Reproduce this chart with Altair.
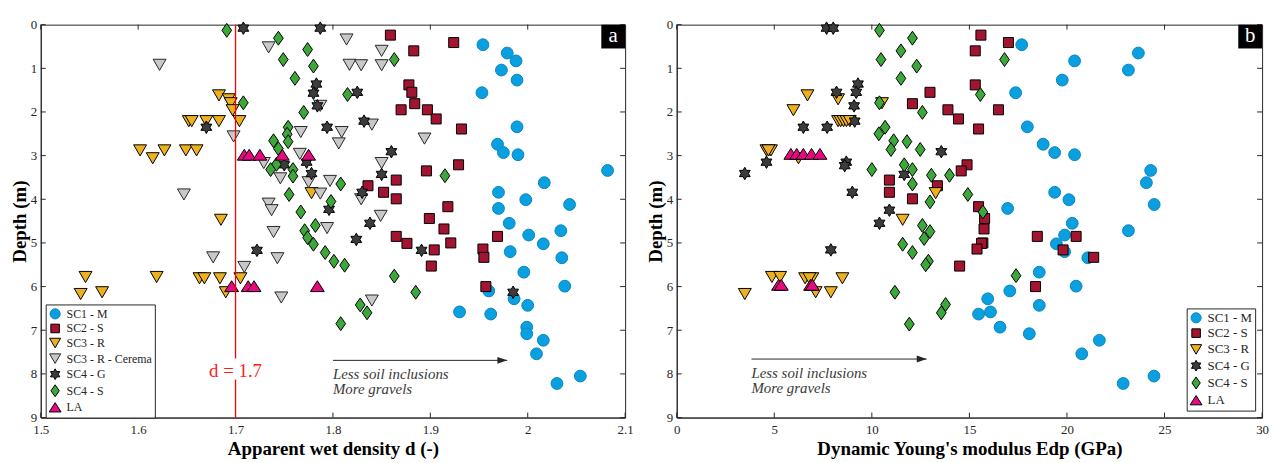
import altair as alt
import pandas as pd

FONT = "Liberation Serif"
INK = "#262626"

# ---------------- data ----------------
SERIES = ["SC1 - M", "SC2 - S", "SC3 - R", "SC3 - R - Cerema", "SC4 - G", "SC4 - S", "LA"]
FILLS = ["#0aa0e0", "#a2142f", "#edb120", "#c8c8c8", "#3c3c3c", "#3ca83a", "#e6097f"]
STROKES = ["#0b86c0", "#000000", "#000000", "#262626", "#000000", "#000000", "#000000"]

SC1_DEPTH = [0.46, 0.65, 0.83, 1.04, 1.27, 1.56, 2.34, 2.74, 2.93, 2.98, 3.34, 3.62, 3.84, 4.01, 4.12, 4.21, 4.55, 4.72,
             4.82, 5.02, 5.20, 5.34, 5.67, 5.99, 6.10, 6.28, 6.43, 6.58, 6.63, 6.93, 7.08, 7.23, 7.54, 8.05, 8.22]
SC1_DENSITY = [1.954, 1.979, 1.988, 1.973, 1.989, 1.953, 1.989, 1.969, 1.975, 1.990, 2.082, 2.017, 1.970, 1.998, 2.043,
               1.970, 1.981, 2.034, 2.001, 2.016, 1.982, 2.035, 1.996, 2.038, 1.960, 1.986, 2.000, 1.930, 1.962, 1.999,
               1.999, 2.016, 2.009, 2.054, 2.030]
SC1_EDP = [17.68, 23.66, 20.39, 23.15, 19.76, 17.37, 17.97, 18.78, 19.37, 20.39, 24.29, 24.07, 19.37, 20.10, 24.47,
           16.96, 20.27, 23.15, 19.88, 19.46, 19.88, 21.07, 18.58, 20.47, 17.07, 15.94, 18.58, 16.08, 15.47, 16.57,
           18.07, 21.66, 20.76, 24.46, 22.88]

SC2_DEPTH = [0.24, 0.41, 0.60, 1.38, 1.55, 1.81, 1.95, 1.95, 2.16, 2.39, 3.21, 3.35, 3.56, 3.69, 3.84, 3.99, 4.17, 4.44,
             4.68, 4.85, 4.85, 5.00, 5.01, 5.14, 5.16, 5.33, 5.53, 6.00]
SC2_DENSITY = [1.859, 1.924, 1.883, 1.878, 1.881, 1.884, 1.870, 1.897, 1.906, 1.932, 1.929, 1.896, 1.865, 1.836, 1.852,
               1.865, 1.918, 1.899, 1.914, 1.865, 1.969, 1.921, 1.876, 1.954, 1.904, 1.955, 1.901, 1.957]
SC2_EDP = [15.59, 17.00, 15.30, 15.30, 12.98, 12.08, 13.90, 16.49, 14.44, 15.47, 14.88, 14.58, 10.90, 13.36, 10.90,
           12.08, 15.47, 15.78, 15.75, 18.48, 20.47, 15.69, 15.62, 15.39, 19.80, 21.37, 14.50, 18.39]

SC3R_DEPTH = [1.62, 1.71, 1.80, 1.96, 2.21, 2.21, 2.21, 2.21, 2.21, 2.88, 3.06, 2.88, 2.88, 2.88, 3.86, 4.47, 5.78, 6.17,
              6.13, 5.78, 5.81, 5.81, 5.81, 5.81, 6.13]
SC3R_DENSITY = [1.683, 1.693, 1.695, 1.697, 1.652, 1.655, 1.670, 1.683, 1.704, 1.602, 1.615, 1.627, 1.649, 1.660, 1.778,
                1.685, 1.546, 1.541, 1.563, 1.619, 1.663, 1.668, 1.684, 1.705, 1.690]
SC3R_EDP = [6.70, 8.27, 10.52, 5.98, 8.27, 8.40, 8.55, 8.70, 8.87, 4.60, 6.24, 4.72, 4.83, 4.70, 13.27, 11.58, 4.88, 3.49,
            7.12, 5.30, 6.58, 6.95, 8.49, 6.80, 7.90]

CEREMA_DEPTH = [0.34, 0.52, 0.60, 0.92, 0.92, 0.93, 0.93, 1.86, 2.29, 2.46, 2.46, 2.56, 2.61, 2.72, 2.96, 3.17, 3.17,
                3.52, 3.58, 3.61, 3.87, 3.89, 4.00, 4.10, 4.25, 4.38, 4.66, 4.75, 5.33, 5.35, 5.55, 6.25, 6.32]
CEREMA_DENSITY = [1.814, 1.734, 1.850, 1.622, 1.817, 1.829, 1.850, 1.787, 1.840, 1.767, 1.809, 1.698, 1.894, 1.806,
                  1.766, 1.729, 1.850, 1.746, 1.797, 1.775, 1.787, 1.647, 1.829, 1.734, 1.737, 1.849, 1.794, 1.739,
                  1.677, 1.743, 1.709, 1.747, 1.840]

SC4G_D_DEPTH = [0.08, 0.08, 1.36, 1.55, 1.57, 1.86, 2.21, 2.35, 2.35, 2.91, 3.15, 3.21, 3.41, 3.43, 3.84, 4.23, 4.55,
                4.92, 5.17, 5.17, 6.13]
SC4G_DENSITY = [1.708, 1.787, 1.783, 1.825, 1.780, 1.784, 1.832, 1.670, 1.794, 1.860, 1.773, 1.750, 1.778, 1.850, 1.830,
                1.796, 1.838, 1.824, 1.891, 1.722, 1.985]
SC4G_E_DEPTH = [0.08, 0.08, 1.36, 1.55, 1.55, 1.86, 2.21, 2.35, 2.35, 2.91, 3.15, 3.15, 3.23, 3.41, 3.43, 3.84, 4.25,
                4.55, 5.16]
SC4G_EDP = [7.68, 8.02, 9.29, 8.19, 9.20, 9.09, 9.12, 6.49, 7.71, 13.56, 4.60, 8.69, 8.61, 3.49, 11.66, 9.00, 10.90,
            10.39, 7.90]

SC4S_D_DEPTH = [0.13, 0.31, 0.57, 0.80, 0.80, 0.95, 1.23, 1.60, 1.79, 2.01, 2.35, 2.51, 2.66, 2.68, 2.84, 3.20, 3.32,
                3.32, 3.46, 3.47, 3.65, 3.89, 4.05, 4.29, 4.60, 4.72, 4.88, 5.03, 5.22, 5.42, 5.51, 5.76, 6.13, 6.42,
                6.60, 6.85]
SC4S_DENSITY = [1.691, 1.744, 1.774, 1.749, 1.863, 1.780, 1.761, 1.815, 1.708, 1.770, 1.754, 1.753, 1.739, 1.754, 1.744,
                1.742, 1.736, 1.759, 1.915, 1.759, 1.808, 1.755, 1.798, 1.767, 1.782, 1.771, 1.774, 1.780, 1.792, 1.801,
                1.812, 1.863, 1.885, 1.828, 1.835, 1.808]
SC4S_E_DEPTH = [0.13, 0.31, 0.60, 0.80, 0.80, 0.95, 1.23, 1.60, 1.79, 2.01, 2.35, 2.50, 2.66, 2.68, 2.86, 2.86, 3.21,
                3.32, 3.32, 3.45, 3.45, 3.65, 3.89, 4.06, 4.29, 4.60, 4.74, 4.90, 5.03, 5.22, 5.42, 5.50, 5.75, 6.13,
                6.41, 6.60, 6.86]
SC4S_EDP = [10.39, 12.08, 11.49, 10.47, 16.80, 12.30, 11.49, 15.56, 10.39, 12.59, 10.68, 10.36, 11.12, 11.80, 10.98,
            12.48, 11.66, 10.00, 12.08, 13.05, 13.98, 12.08, 14.92, 12.98, 15.69, 12.59, 12.98, 12.68, 11.58, 12.08,
            12.90, 12.76, 17.39, 11.18, 13.78, 13.56, 11.92]

LA_D_DEPTH = [2.98, 2.98, 2.98, 2.98, 2.98, 5.99, 5.99, 5.99, 5.99]
LA_DENSITY = [1.709, 1.714, 1.725, 1.748, 1.775, 1.696, 1.713, 1.719, 1.784]
LA_E_DEPTH = [2.96, 2.96, 2.96, 2.96, 2.96, 5.96, 5.96, 5.96, 5.96]
LA_EDP = [5.85, 6.15, 6.49, 6.91, 7.34, 5.22, 5.36, 6.86, 6.95]

X_TICKS_D = [1.5, 1.6, 1.7, 1.8, 1.9, 2.0, 2.1]
X_TICKS_E = [0, 5, 10, 15, 20, 25, 30]
Y_TICKS = [0, 1, 2, 3, 4, 5, 6, 7, 8, 9]

THRESHOLD_X = [1.7, 1.7]
THRESHOLD_Y1 = [0.0, 8.13]
THRESHOLD_Y2 = [7.65, 9.0]
THRESHOLD_LABEL = "d = 1.7"
THRESHOLD_LABEL_Y = 7.93

NOTE_LINES = ["Less soil inclusions", "More gravels"]
ARROW_D = {"x": 1.80, "x2": 1.979, "y": 7.69, "ty": [8.00, 8.35]}
ARROW_E = {"x": 3.83, "x2": 12.81, "y": 7.66, "ty": [7.97, 8.32]}

# ---------------- styles ----------------
CIRCLE = "M0.85,0A0.85,0.85,0,1,1,-0.85,0A0.85,0.85,0,1,1,0.85,0Z"
SQUARE = "M-0.72,-0.72L0.72,-0.72L0.72,0.72L-0.72,0.72Z"
TRI_DOWN = "M-0.93,-0.8L0.93,-0.8L0,0.8Z"
TRI_UP = "M0,-0.78L1,0.78L-1,0.78Z"
DIAMOND = "M0,-1L0.7,0L0,1L-0.7,0Z"
HEXAGRAM = ("M0,-0.9L0.26,-0.45L0.78,-0.45L0.52,0L0.78,0.45L0.26,0.45L0,0.9L-0.26,0.45"
            "L-0.78,0.45L-0.52,0L-0.78,-0.45L-0.26,-0.45Z")
SHAPES = [CIRCLE, SQUARE, TRI_DOWN, TRI_DOWN, HEXAGRAM, DIAMOND, TRI_UP]
ARROW_HEAD = "M0,0L-1,-0.35L-1,0.35Z"

H = 396
W_D = 589
W_E = 590


def build_df(blocks):
    rows = []
    for name, depths, vals in blocks:
        for d, v in zip(depths, vals):
            rows.append({"series": name, "depth": d, "value": v})
    return pd.DataFrame(rows)


df_d = build_df([
    (SERIES[0], SC1_DEPTH, SC1_DENSITY),
    (SERIES[1], SC2_DEPTH, SC2_DENSITY),
    (SERIES[2], SC3R_DEPTH, SC3R_DENSITY),
    (SERIES[3], CEREMA_DEPTH, CEREMA_DENSITY),
    (SERIES[4], SC4G_D_DEPTH, SC4G_DENSITY),
    (SERIES[5], SC4S_D_DEPTH, SC4S_DENSITY),
    (SERIES[6], LA_D_DEPTH, LA_DENSITY),
])
df_e = build_df([
    (SERIES[0], SC1_DEPTH, SC1_EDP),
    (SERIES[1], SC2_DEPTH, SC2_EDP),
    (SERIES[2], SC3R_DEPTH, SC3R_EDP),
    (SERIES[4], SC4G_E_DEPTH, SC4G_EDP),
    (SERIES[5], SC4S_E_DEPTH, SC4S_EDP),
    (SERIES[6], LA_E_DEPTH, LA_EDP),
])


def make_panel(df, idx, xdomain, xticks, xtitle, W, legend_xy, label_size, row_pad, arrow, letter, extra=None):
    ser = [SERIES[i] for i in idx]
    fills = [FILLS[i] for i in idx]
    strokes = [STROKES[i] for i in idx]
    shapes = [SHAPES[i] for i in idx]
    xs = alt.Scale(domain=xdomain, nice=False, zero=False)
    ys = alt.Scale(domain=[0, 9], reverse=True, nice=False, zero=False)
    x_axis = alt.Axis(values=xticks, format="~g", labelFlush=False, labelPadding=6, titlePadding=3)
    y_axis = alt.Axis(values=Y_TICKS, format="~g", labelFlush=False, labelPadding=4, titlePadding=1)

    def X(field):
        return alt.X(field, type="quantitative", scale=xs, title=xtitle, axis=x_axis)

    def Y(field):
        return alt.Y(field, type="quantitative", scale=ys, title="Depth (m)", axis=y_axis)

    leg = alt.Legend(title=None, orient="none", legendX=legend_xy[0], legendY=legend_xy[1],
                     fillColor="white", strokeColor=INK, padding=3, rowPadding=row_pad,
                     symbolSize=144, symbolStrokeWidth=1, symbolOpacity=1,
                     labelFont=FONT, labelFontSize=label_size, labelColor=INK, labelOffset=5)
    points = alt.Chart(df).mark_point(filled=True, size=196, strokeWidth=1, opacity=1,
                                      fillOpacity=1, strokeOpacity=1).encode(
        x=X("value"),
        y=Y("depth"),
        fill=alt.Fill("series:N", scale=alt.Scale(domain=ser, range=fills), legend=leg),
        stroke=alt.Stroke("series:N", scale=alt.Scale(domain=ser, range=strokes), legend=leg),
        shape=alt.Shape("series:N", scale=alt.Scale(domain=ser, range=shapes), legend=leg),
    )
    # inner ticks on all four sides (MATLAB box style)
    L = 5
    tx = alt.Chart(pd.DataFrame({"t": xticks})).mark_rule(color=INK, strokeWidth=1)
    ty = alt.Chart(pd.DataFrame({"t": Y_TICKS})).mark_rule(color=INK, strokeWidth=1)
    ticks = [
        tx.encode(x=X("t"), y=alt.value(H), y2=alt.value(H - L)),
        tx.encode(x=X("t"), y=alt.value(0), y2=alt.value(L)),
        ty.encode(y=Y("t"), x=alt.value(0), x2=alt.value(L)),
        ty.encode(y=Y("t"), x=alt.value(W), x2=alt.value(W - L)),
    ]
    adf = pd.DataFrame({"x": [arrow["x"]], "x2": [arrow["x2"]], "y": [arrow["y"]]})
    arrow_rule = alt.Chart(adf).mark_rule(color=INK, strokeWidth=1).encode(
        x=X("x"), x2="x2:Q", y=Y("y"))
    arrow_head = alt.Chart(adf).mark_point(shape=ARROW_HEAD, size=400, filled=True, color=INK, opacity=1).encode(
        x=X("x2"), y=Y("y"))
    ndf = pd.DataFrame({"x": [arrow["x"]] * 2, "y": arrow["ty"], "t": NOTE_LINES})
    notes = alt.Chart(ndf).mark_text(align="left", baseline="middle", font=FONT, fontSize=15,
                                     fontStyle="italic", color="#3a3a3a").encode(
        x=X("x"), y=Y("y"), text="t:N")
    ldf = pd.DataFrame({"t": [letter]})
    box = alt.Chart(ldf).mark_rect(color="black").encode(
        x=alt.value(W - 24), x2=alt.value(W), y=alt.value(0), y2=alt.value(24))
    letter_t = alt.Chart(ldf).mark_text(color="white", font=FONT, fontSize=21, align="center",
                                        baseline="middle").encode(
        x=alt.value(W - 12), y=alt.value(11), text="t:N")
    layers = [points] + ticks + (extra(X, Y) if extra else []) + [arrow_rule, arrow_head, notes, box, letter_t]
    return alt.layer(*layers).properties(width=W, height=H)


def threshold_layers(X, Y):
    vdf = pd.DataFrame({"x": THRESHOLD_X, "y": THRESHOLD_Y1, "y2": THRESHOLD_Y2})
    line = alt.Chart(vdf).mark_rule(color="#ff0000", strokeWidth=1.3).encode(
        x=X("x"), y=Y("y"), y2="y2:Q")
    tdf = pd.DataFrame({"x": [THRESHOLD_X[0]], "y": [THRESHOLD_LABEL_Y], "t": [THRESHOLD_LABEL]})
    txt = alt.Chart(tdf).mark_text(color="#ff1a1a", font=FONT, fontSize=19, align="center",
                                   baseline="middle").encode(
        x=X("x"), y=Y("y"), text="t:N")
    return [line, txt]


left = make_panel(df_d, [0, 1, 2, 3, 4, 5, 6], [1.5, 2.1], X_TICKS_D, "Apparent wet density d (-)", W_D,
                  (5, 282), 12, 0.7, ARROW_D, "a", extra=threshold_layers)
right = make_panel(df_e, [0, 1, 2, 4, 5, 6], [0, 30], X_TICKS_E, "Dynamic Young's modulus Edp (GPa)", W_E,
                   (514, 286), 13, 1.4, ARROW_E, "b")

chart = alt.hconcat(left, right, spacing=12).resolve_scale(
    fill="independent", stroke="independent", shape="independent", x="independent", y="independent"
).properties(
    padding={"left": 2, "top": 8, "right": 4, "bottom": 0}
).configure(font=FONT).configure_view(
    stroke=INK, strokeWidth=1
).configure_axis(
    domainColor=INK, domainWidth=1, ticks=False, grid=False,
    labelFont=FONT, labelFontSize=13, labelColor=INK,
    titleFont=FONT, titleFontSize=19, titleFontWeight="bold", titleColor="black",
)

chart.save("out.html", embed_options={"renderer": "svg", "actions": False})
